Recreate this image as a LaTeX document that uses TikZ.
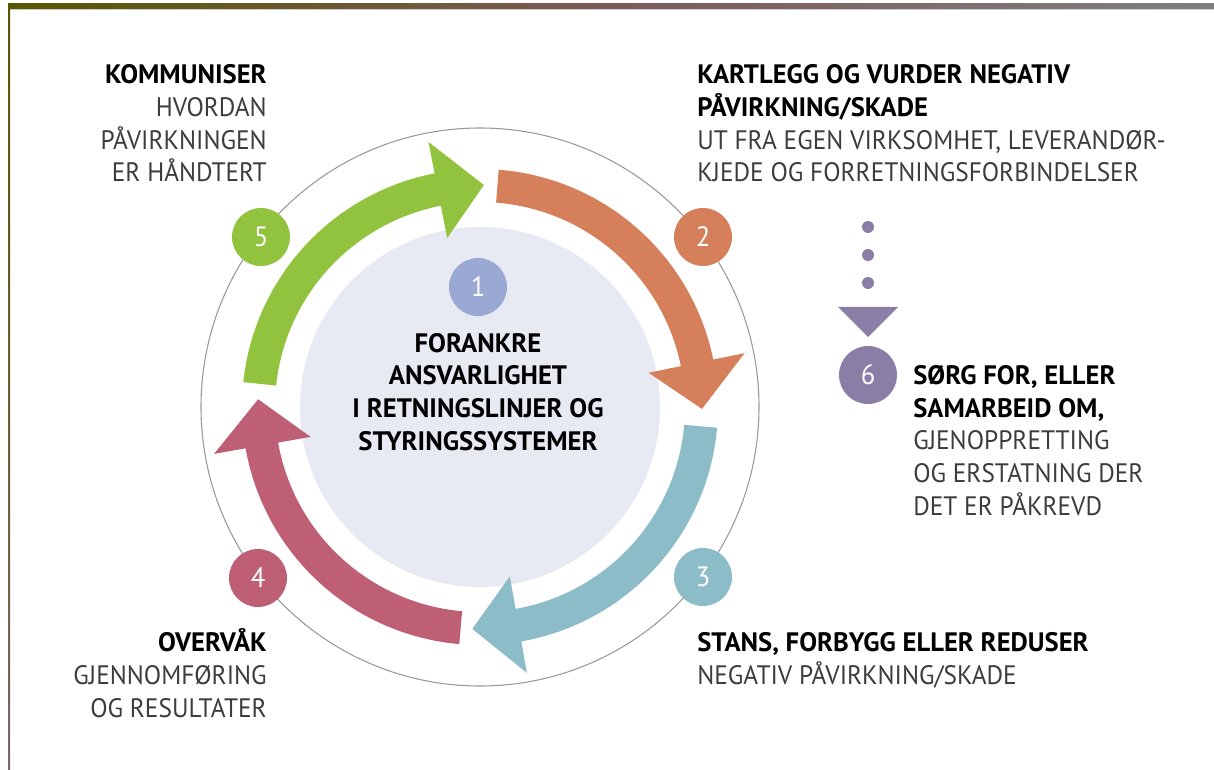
\documentclass[tikz,border=0pt]{standalone}
\usepackage{fontspec}
\setmainfont{PT Sans}[UprightFeatures={FakeStretch=0.95}]
\usetikzlibrary{calc}

\definecolor{kgreen}{HTML}{92C33F}
\definecolor{korange}{HTML}{D5805B}
\definecolor{kteal}{HTML}{8BBCC8}
\definecolor{krose}{HTML}{BE5F75}
\definecolor{kblue}{HTML}{9AA8D4}
\definecolor{kpurple}{HTML}{8A7EA7}
\definecolor{kcore}{HTML}{E7E9F3}
\definecolor{ktext}{HTML}{3C3C3C}

\tikzset{
  badge/.style={circle, minimum size=43.5pt, inner sep=0pt, text=white,
    font=\fontsize{21}{22}\selectfont},
  steptext/.style={inner sep=0pt, text=ktext, font=\fontsize{20}{24.5}\selectfont},
}
\newcommand{\hd}[1]{{\bfseries\color{black}#1}}

% colour, tail angle, tip angle
\newcommand{\cyclearrow}[3]{%
  \fill[#1] (#2:238) arc[start angle=#2, end angle=#3+12, radius=238]
    -- (#3+12:270) -- (#3:222) -- (#3+12:172) -- (#3+12:205)
    arc[start angle=#3+12, end angle=#2, radius=205] -- cycle;}

\begin{document}
\begin{tikzpicture}[x=0.75pt,y=0.75pt]
    \useasboundingbox (0,0) rectangle (1214,769);

    % frame
    \shade[left color=black!45!olive!70!gray, right color=gray, middle color=black!55!red!30!gray]
        (8,760) rectangle (1214,765);
    \fill[black!20] (8,759) rectangle (1214,760);
    \shade[top color=black!45!olive!70!gray, bottom color=black!60!red!20!gray]
        (8,0) rectangle (10,765);

    \begin{scope}[shift={(480,362)}]
        \draw[black!40, line width=0.8pt] (0,0) circle[radius=279];
        \fill[kcore] (0,0) circle[radius=180];

        \cyclearrow{kgreen}{174}{89}
        \cyclearrow{korange}{85.5}{-0.5}
        \cyclearrow{kteal}{-5}{-92}
        \cyclearrow{krose}{-95}{-182}
    \end{scope}

    \node[badge, fill=kblue]   (b1) at (478,482) {1};
    \node[badge, fill=korange] (b2) at (703,532) {2};
    \node[badge, fill=kteal]   (b3) at (703,192) {3};
    \node[badge, fill=krose]   (b4) at (258,191) {4};
    \node[badge, fill=kgreen]  (b5) at (261,532) {5};
    \node[badge, fill=kpurple] (b6) at (868,394) {6};

    % dotted link to 6
    \coordinate (dtop) at (868,542);
    \coordinate (tritop) at (868,462);
    \draw[kpurple, line width=9pt, line cap=round, dash pattern=on 0pt off 21pt] (dtop) -- (tritop);
    \fill[kpurple] (838,462) -- (898,462) -- (868,432) -- cycle;

    \node[steptext, anchor=base, align=center] (t1) at (478,319)
        {\hd{FORANKRE}\\\hd{ANSVARLIGHET}\\\hd{I RETNINGSLINJER OG}\\\hd{STYRINGSSYSTEMER}};
    \node[steptext, anchor=base west, align=left] (t2) at (697,587)
        {\hd{KARTLEGG OG VURDER NEGATIV}\\\hd{PÅVIRKNING/SKADE}\\UT FRA EGEN VIRKSOMHET, LEVERANDØR-\\KJEDE OG FORRETNINGSFORBINDELSER};
    \node[steptext, anchor=base west, align=left] (t3) at (697,85)
        {\hd{STANS, FORBYGG ELLER REDUSER}\\NEGATIV PÅVIRKNING/SKADE};
    \node[steptext, anchor=base east, align=right] (t4) at (267,52)
        {\hd{OVERVÅK}\\GJENNOMFØRING\\OG RESULTATER};
    \node[steptext, anchor=base east, align=right] (t5) at (267,587)
        {\hd{KOMMUNISER}\\HVORDAN\\PÅVIRKNINGEN\\ER HÅNDTERT};
    \node[steptext, anchor=base west, align=left] (t6) at (913,254)
        {\hd{SØRG FOR, ELLER}\\\hd{SAMARBEID OM,}\\GJENOPPRETTING\\OG ERSTATNING DER\\DET ER PÅKREVD};
\end{tikzpicture}
\end{document}
